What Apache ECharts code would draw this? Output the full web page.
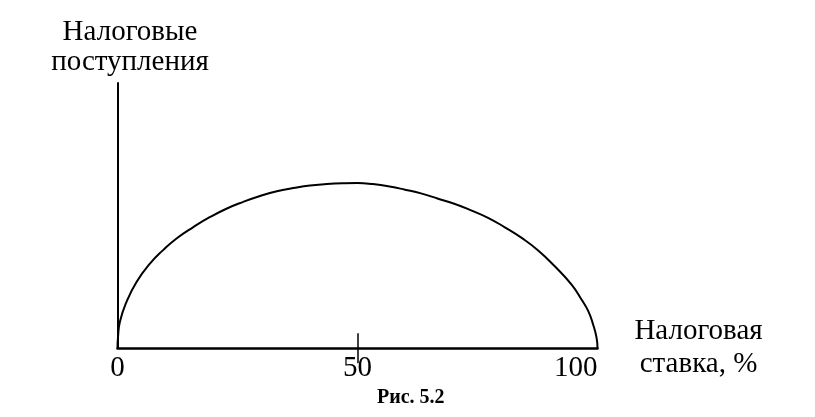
<!DOCTYPE html>
<html>
<head>
<meta charset="utf-8">
<script src="https://cdn.jsdelivr.net/npm/echarts@6/dist/echarts.min.js"></script>
<style>html,body{margin:0;padding:0;background:#fff;}#c{width:815px;height:417px;}</style>
</head>
<body>
<div id="c"></div>
<script>
const taxRate = [0,0.1,0.5,1.9,4.0,6.8,9.5,12.3,15.8,19.3,22.8,26.2,29.7,33.2,36.6,40.1,43.6,47.0,50,53.2,56.7,59.9,63.4,66.8,70.3,73.8,77.3,80.7,84.2,87.7,91.1,94.6,96.7,98.1,99.1,99.8,100];
const revenue = [0,4,10,17.6,25.1,32.0,37.0,41.4,45.7,49.5,52.7,55.2,57.4,59.2,60.4,61.4,61.9,62.2,62.3,61.9,61.0,59.8,58.3,56.4,54.4,51.9,49.1,45.6,41.6,36.8,30.9,24.0,18.3,13.9,8.9,4,0];
const xTicks = [0, 50, 100];
const tickMarks = [50];
const yName = 'Налоговые\nпоступления';
const xName = 'Налоговая\nставка, %';
const caption = 'Рис. 5.2';

const FONT = "'Liberation Serif', 'Times New Roman', serif";
const chart = echarts.init(document.getElementById('c'), null, {renderer: 'canvas'});
chart.setOption({
  animation: false,
  backgroundColor: '#fff',
  title: {
    text: caption, left: 377, top: 388, padding: 0,
    textStyle: {fontFamily: FONT, fontWeight: 'bold', fontSize: 20, color: '#000'}
  },
  grid: {left: 117.5, right: 217.5, top: 83, bottom: 68.7, containLabel: false},
  xAxis: [{
    type: 'value', min: 0, max: 100, interval: 50,
    name: xName, nameLocation: 'end', nameGap: 101,
    nameTextStyle: {fontFamily: FONT, fontSize: 29, color: '#000', align: 'center', verticalAlign: 'middle', lineHeight: 33, padding: [7, 0, 0, 0]},
    axisLine: {show: true, lineStyle: {color: '#000', width: 2.5}},
    axisTick: {show: true, inside: true, length: 15, customValues: tickMarks, lineStyle: {color: '#000', width: 1.5}},
    axisLabel: {show: true, customValues: xTicks, margin: 6, fontFamily: FONT, fontSize: 29, color: '#000', alignMinLabel: 'center', alignMaxLabel: 'right'},
    splitLine: {show: false}
  }, {
    type: 'value', min: 0, max: 100, interval: 50, position: 'bottom',
    axisLine: {show: false},
    axisTick: {show: true, inside: false, length: 15, customValues: tickMarks, lineStyle: {color: '#000', width: 1.5}},
    axisLabel: {show: false},
    splitLine: {show: false}
  }],
  yAxis: {
    type: 'value', min: 0, max: 100,
    name: yName, nameLocation: 'end', nameGap: 5.5,
    nameTextStyle: {fontFamily: FONT, fontSize: 29, color: '#000', align: 'center', verticalAlign: 'bottom', lineHeight: 30, padding: [0, 0, 0, 25]},
    axisLine: {show: true, lineStyle: {color: '#000', width: 2}},
    axisTick: {show: false},
    axisLabel: {show: false},
    splitLine: {show: false}
  },
  series: [{
    type: 'line',
    xAxisIndex: 0,
    data: taxRate.map((x, i) => [x, revenue[i]]),
    smooth: 0.5,
    showSymbol: false,
    lineStyle: {color: '#000', width: 2}
  }]
});
</script>
</body>
</html>
